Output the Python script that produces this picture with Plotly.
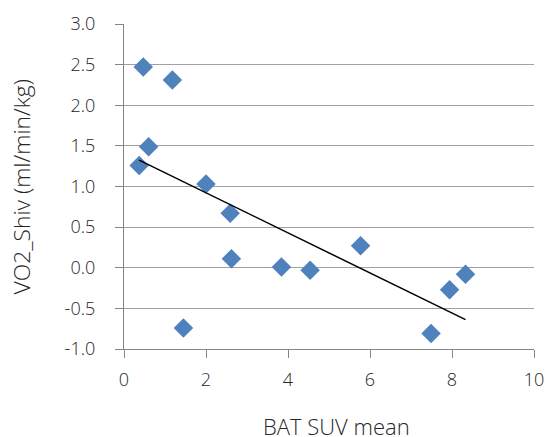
import numpy as np
import plotly.graph_objects as go

bat_suv_mean = [0.47, 1.18, 0.60, 0.37, 2.00, 2.59, 2.62, 3.84, 4.54, 5.77, 1.45, 7.49, 7.94, 8.33]
vo2_shiv = [2.47, 2.31, 1.49, 1.26, 1.03, 0.67, 0.11, 0.01, -0.03, 0.27, -0.74, -0.81, -0.27, -0.08]

x_ticks = [0, 2, 4, 6, 8, 10]
y_ticks = [-1.0, -0.5, 0.0, 0.5, 1.0, 1.5, 2.0, 2.5, 3.0]
x_title = "BAT SUV mean"
y_title = "VO2_Shiv (ml/min/kg)"

slope, intercept = np.polyfit(bat_suv_mean, vo2_shiv, 1)
tx = [min(bat_suv_mean), max(bat_suv_mean)]
ty = [slope * v + intercept for v in tx]

FONT = dict(family="Open Sans", size=18, color="#262626", weight=300)
XTFONT = dict(family="Open Sans", size=22, color="#262626", weight=300)
YTFONT = dict(family="Open Sans", size=22.8, color="#262626", weight=300)

fig = go.Figure()
fig.add_trace(go.Scatter(x=bat_suv_mean, y=vo2_shiv, mode="markers",
                         marker=dict(symbol="diamond", size=15, color="#4F81BD",
                                     line=dict(width=0)),
                         showlegend=False))
fig.add_trace(go.Scatter(x=tx, y=ty, mode="lines",
                         line=dict(color="black", width=1.5), showlegend=False))

fig.update_layout(
    width=547, height=437,
    margin=dict(l=124, r=13, t=24, b=88),
    paper_bgcolor="white", plot_bgcolor="white",
    font=FONT,
)
fig.update_xaxes(range=[0, 10], tickvals=x_ticks, ticktext=[str(v) for v in x_ticks],
                 showgrid=False, zeroline=False, showline=True, linecolor="#868686",
                 linewidth=1.3, ticks="outside", ticklen=8, tickcolor="#868686",
                 tickfont=FONT, ticklabelstandoff=6, automargin=False)
fig.update_yaxes(range=[-1.0, 3.0], tickvals=y_ticks, ticktext=[f"{v:.1f}" for v in y_ticks],
                 showgrid=True, gridcolor="#A0A0A0", gridwidth=1.3, zeroline=False,
                 showline=True, linecolor="#868686", linewidth=1.3,
                 ticks="outside", ticklen=8, tickcolor="#868686",
                 tickfont=FONT, ticklabelstandoff=16, automargin=False)

fig.add_annotation(text=x_title, xref="paper", yref="paper", x=0.5195, y=-0.2355,
                   xanchor="center", yanchor="middle", showarrow=False, font=XTFONT)
fig.add_annotation(text=y_title, xref="paper", yref="paper", x=-0.249, y=0.5,
                   xanchor="center", yanchor="middle", textangle=-90,
                   showarrow=False, font=YTFONT)

fig.write_html("out.html")
